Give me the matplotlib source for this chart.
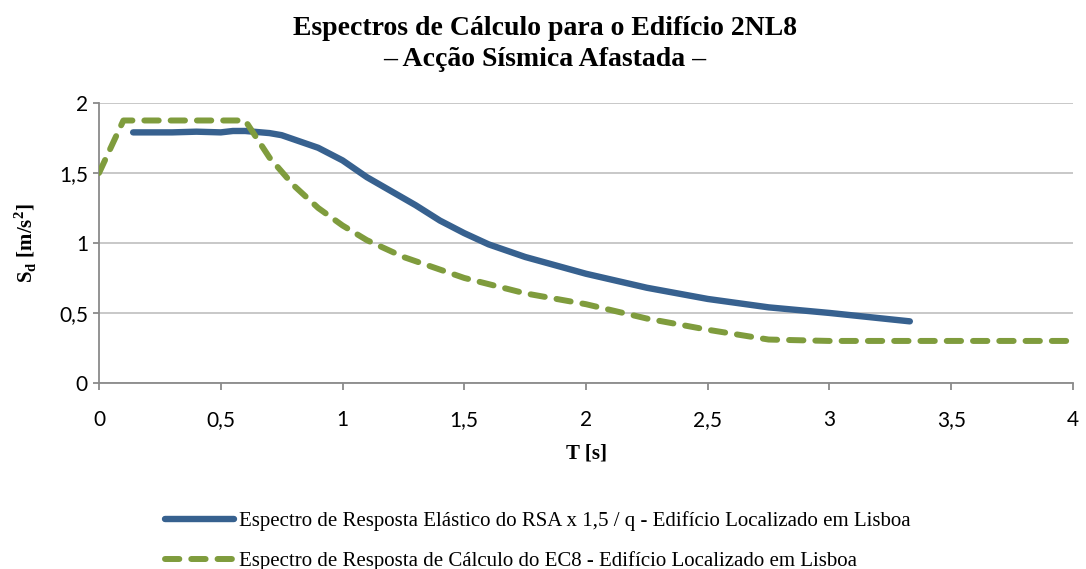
import numpy as np
import matplotlib
matplotlib.use("Agg")
from matplotlib import pyplot as plt

# periods (s) and spectral accelerations (m/s2)
t_rsa = [0.14, 0.3, 0.4, 0.5, 0.55, 0.6, 0.7, 0.75, 0.8, 0.9, 1.0, 1.1, 1.2,
         1.3, 1.4, 1.5, 1.6, 1.75, 2.0, 2.25, 2.5, 2.75, 3.0, 3.33]
sd_rsa = [1.79, 1.79, 1.795, 1.79, 1.80, 1.80, 1.785, 1.77, 1.74, 1.68, 1.59,
          1.47, 1.37, 1.27, 1.16, 1.07, 0.99, 0.90, 0.78, 0.68, 0.60, 0.54,
          0.50, 0.44]

t_ec8 = [0.0, 0.1, 0.6, 0.7, 0.8, 0.9, 1.0, 1.1, 1.25, 1.5, 1.75, 2.0, 2.25,
         2.5, 2.75, 3.0, 3.5, 4.0]
sd_ec8 = [1.5, 1.875, 1.875, 1.61, 1.41, 1.25, 1.125, 1.02, 0.90, 0.75, 0.64,
          0.5625, 0.46, 0.38, 0.31, 0.30, 0.30, 0.30]

x_ticks = [0, 0.5, 1, 1.5, 2, 2.5, 3, 3.5, 4]
y_ticks = [0, 0.5, 1, 1.5, 2]

label_rsa = "Espectro de Resposta Elástico do RSA x 1,5 / q - Edifício Localizado em Lisboa"
label_ec8 = "Espectro de Resposta de Cálculo do EC8 - Edifício Localizado em Lisboa"

serif = "Liberation Serif"
sans = "Lato"

fig = plt.figure(figsize=(10.86, 5.69), dpi=100)
ax = fig.add_axes([0.0912, 0.327, 0.8968, 0.492])

ax.plot(t_rsa, sd_rsa, color="#37618f", lw=4.6, solid_capstyle="round",
        label=label_rsa, zorder=3)
ax.plot(t_ec8, sd_ec8, color="#7f9c3d", lw=4.3, dashes=(2.4, 2.0),
        dash_capstyle="round", label=label_ec8, zorder=3)

ax.set_xlim(0, 4)
ax.set_ylim(0, 2)
ax.set_xticks(x_ticks)
ax.set_yticks(y_ticks)
ax.set_xticklabels([("%g" % v).replace(".", ",") for v in x_ticks],
                   fontfamily=sans, fontsize=15, va="baseline")
ax.set_yticklabels([("%g" % v).replace(".", ",") for v in y_ticks],
                   fontfamily=sans, fontsize=15)
ax.grid(axis="y", color="#c4c4c4", lw=1.3)
ax.set_axisbelow(True)
for side in ["top", "right"]:
    ax.spines[side].set_visible(False)
for side in ["left", "bottom"]:
    ax.spines[side].set_color("#8a8a8a")
    ax.spines[side].set_linewidth(1.3)
ax.tick_params(axis="x", direction="out", length=5, width=1.3,
               color="#8a8a8a", pad=26)
ax.tick_params(axis="y", direction="out", length=4, width=1.3,
               color="#8a8a8a", pad=4)

ax.set_xlabel("T [s]", fontfamily=serif, fontweight="bold", fontsize=15,
              labelpad=10)
ax.set_ylabel(r"S$_\mathregular{d}$ [m/s$^\mathregular{2}$]", fontfamily=serif,
              fontweight="bold", fontsize=15, labelpad=14)

fig.text(0.502, 0.950, "Espectros de Cálculo para o Edifício 2NL8",
         ha="center", va="center", fontfamily=serif, fontweight="bold",
         fontsize=20)
fig.text(0.502, 0.896, "– Acção Sísmica Afastada –",
         ha="center", va="center", fontfamily=serif, fontweight="bold",
         fontsize=20)

leg = fig.legend(loc="upper left", bbox_to_anchor=(0.152, 0.101),
                 frameon=False, borderpad=0, borderaxespad=0,
                 handlelength=3.3, handletextpad=0.25, labelspacing=0.95,
                 prop={"family": serif, "size": 15})

fig.savefig("out.png", dpi=100)
